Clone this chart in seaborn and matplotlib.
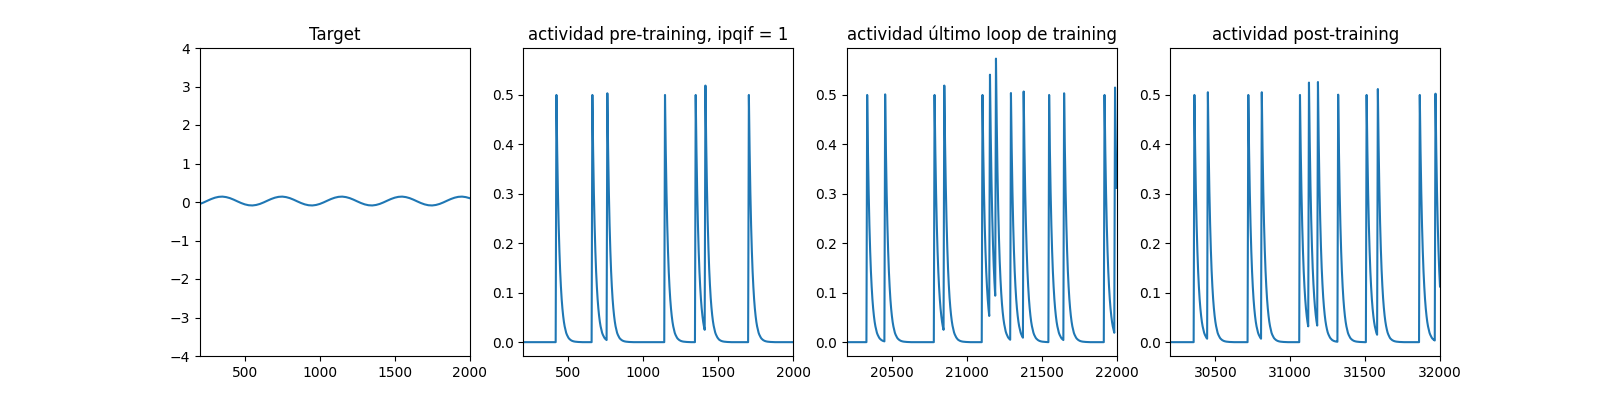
import numpy as np
import matplotlib
matplotlib.use("Agg")
import matplotlib.pyplot as plt
import seaborn as sns

# target signal, sampled every 25 time units from 200 to 2000
target_t0, target_dt = 200, 25
target_cycle = [-0.050, -0.011, 0.034, 0.077, 0.112, 0.134, 0.140, 0.127,
                0.100, 0.061, 0.016, -0.027, -0.062, -0.084, -0.090, -0.077]
target_vals = (target_cycle * 5)[:73]

# decay of the activity after one spike, every 5 time units
kernel_dt = 5
kernel_vals = [0.500, 0.389, 0.303, 0.236, 0.184, 0.143, 0.112, 0.087,
               0.068, 0.053, 0.041, 0.032, 0.025, 0.019, 0.015, 0.012,
               0.009, 0.007, 0.0055, 0.0043, 0.0034, 0.0026, 0.0020, 0.0016,
               0.0012, 0.0010, 0.0008, 0.0006, 0.0005, 0.0004, 0.0003]

# spike times
spikes_pre = [420, 660, 760, 1145, 1350, 1415, 1705]
spikes_last = [20335, 20455, 20785, 20850, 21105, 21155, 21195, 21295,
               21380, 21550, 21650, 21920, 21990]
spikes_post = [30360, 30450, 30720, 30810, 31065, 31125, 31185, 31320,
               31510, 31585, 31865, 31970]

windows = [(200, 2000), (20200, 22000), (30200, 32000)]
titles = ["Target", "actividad pre-training, ipqif = 1",
          "actividad último loop de training", "actividad post-training"]
xticks = [[500, 1000, 1500, 2000],
          [20500, 21000, 21500, 22000],
          [30500, 31000, 31500, 32000]]


def activity(spike_times, start, end):
    t = np.arange(start, end + 1, kernel_dt)
    train = np.zeros(len(t))
    for s in spike_times:
        train[(s - start) // kernel_dt] += 1
    return t, np.convolve(train, kernel_vals)[:len(t)]


fig, axes = plt.subplots(1, 4, figsize=(16, 4))

tt = target_t0 + target_dt * np.arange(len(target_vals))
sns.lineplot(x=tt, y=target_vals, ax=axes[0], estimator=None, sort=False)
axes[0].set_xlim(200, 2000)
axes[0].set_ylim(-4, 4)
axes[0].set_xticks([500, 1000, 1500, 2000])
axes[0].set_title(titles[0])

for ax, spk, (a, b), tks, title in zip(axes[1:], [spikes_pre, spikes_last, spikes_post],
                                       windows, xticks, titles[1:]):
    t, y = activity(spk, a, b)
    sns.lineplot(x=t, y=y, ax=ax, estimator=None, sort=False)
    ax.set_xlim(a, b)
    ax.set_ylim(-0.028, 0.595)
    ax.set_xticks(tks)
    ax.set_yticks([0.0, 0.1, 0.2, 0.3, 0.4, 0.5])
    ax.set_title(title)

fig.savefig("out.png", dpi=100)
